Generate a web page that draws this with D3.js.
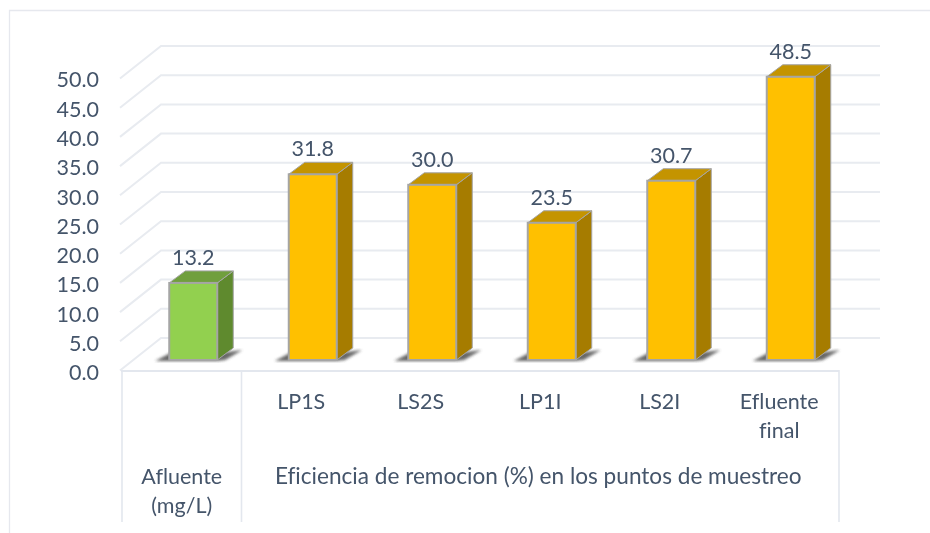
<!DOCTYPE html>
<html><head><meta charset="utf-8">
<script src="https://cdn.jsdelivr.net/npm/d3@7"></script>
<style>html,body{margin:0;padding:0;background:#fff}svg{display:block}text{font-family:Lato,"Open Sans",sans-serif;fill:#44546a;font-variant-ligatures:none}</style>
</head><body><svg id="c" width="930" height="533"></svg>
<script>
const categories=["Afluente (mg/L)","LP1S","LS2S","LP1I","LS2I","Efluente final"];
const categoryLines=[["Afluente","(mg/L)"],["LP1S"],["LS2S"],["LP1I"],["LS2I"],["Efluente","final"]];
const values=[13.2,31.8,30.0,23.5,30.7,48.5];
const frontColors=["#92d050","#ffc000","#ffc000","#ffc000","#ffc000","#ffc000"];
const sideColors=["#5e8a2f","#a67c00","#a67c00","#a67c00","#a67c00","#a67c00"];
const topColors=["#6f9f3c","#c49400","#c49400","#c49400","#c49400","#c49400"];
const groupLabel="Eficiencia de remocion (%) en los puntos de muestreo";
const tickValues=[0,5,10,15,20,25,30,35,40,45,50];

const svg=d3.select("#c");
const defs=svg.append("defs");
defs.append("filter").attr("id","soft").append("feGaussianBlur").attr("stdDeviation",0.5);
defs.append("filter").attr("id","sh").append("feGaussianBlur").attr("stdDeviation",1.8);

const x=d3.scaleBand().domain(categories).range([122,839]);
const y=d3.scaleLinear().domain([0,50]).range([370,78]);
const yLabel=y.copy().range([373,80]);
const backDx=39, backDy=-32;
const barDx=11.5, barDy=-10;
const barW=48, capDx=16, capDy=-12;
const line="#e3e7ee", grid="#e8ebf0";
const fs=21.5;

const root=svg.append("g").attr("filter","url(#soft)");
root.append("path").attr("d","M9.5,533V10.5H930").attr("fill","none").attr("stroke","#e6e8ee").attr("stroke-width",1.3);
root.append("g").selectAll("path").data(tickValues).join("path")
  .attr("d",d=>`M${x.range()[0]-2},${y(d)+0.5}L${x.range()[0]+backDx},${y(d)+backDy}H880`)
  .attr("fill","none").attr("stroke",grid).attr("stroke-width",2);
root.append("path").attr("d",`M${x.range()[0]-1},371H${x.range()[1]}`).attr("stroke",line).attr("stroke-width",2).attr("fill","none");
const seps=[x.range()[0],x("LP1S"),x.range()[1]];
root.append("g").selectAll("line").data(seps).join("line")
  .attr("x1",d=>d).attr("x2",d=>d).attr("y1",370).attr("y2",522)
  .attr("stroke",line).attr("stroke-width",1.6);
const ax=d3.axisLeft(yLabel).tickValues(tickValues).tickFormat(d3.format(".1f")).tickSize(0).tickPadding(23);
const ag=root.append("g").attr("transform",`translate(${x.range()[0]},0)`).call(ax);
ag.select(".domain").remove();
ag.selectAll("text").attr("font-size",fs).style("font-family","Lato,sans-serif").attr("fill","#44546a");
const b=root.append("g").selectAll("g").data(values).join("g")
  .attr("transform",(d,i)=>`translate(${x(categories[i])+(x.bandwidth()-barW)/2+barDx},${barDy})`);
b.append("path").attr("filter","url(#sh)").attr("fill","#4d4d4d").attr("opacity",.85)
  .attr("d",`M-14,${y(0)+1}L3,${y(0)-8}H${barW+10}L${barW+25},${y(0)-10}L${barW+8},${y(0)}L${barW},${y(0)+1}Z`);
b.append("path").attr("fill",(d,i)=>sideColors[i]).attr("stroke","#a5a5a5").attr("stroke-width",1)
  .attr("d",d=>`M${barW},${y(d)}l${capDx},${capDy}V${y(0)+capDy}L${barW},${y(0)}Z`);
b.append("path").attr("fill",(d,i)=>topColors[i]).attr("stroke","#a5a5a5").attr("stroke-width",1)
  .attr("d",d=>`M0,${y(d)}l${capDx},${capDy}H${barW+capDx}L${barW},${y(d)}Z`);
b.append("rect").attr("x",0).attr("width",barW).attr("y",d=>y(d)).attr("height",d=>y(0)-y(d))
  .attr("fill",(d,i)=>frontColors[i]).attr("stroke","#a5a5a5").attr("stroke-width",2);
b.append("text").attr("x",barW/2).attr("y",d=>y(d)-18).attr("text-anchor","middle")
  .attr("font-size",fs).text(d=>d3.format(".1f")(d));
const firstRow=409, rowH=29;
root.append("g").selectAll("text").data(categories.slice(1)).join("text")
  .attr("x",d=>x(d)+x.bandwidth()/2).attr("text-anchor","middle").attr("font-size",fs)
  .each(function(d){const t=d3.select(this);
    categoryLines[categories.indexOf(d)].forEach((l,i)=>t.append("tspan").attr("x",+t.attr("x")).attr("y",firstRow+i*rowH).text(l));});
const lab=root.append("text").attr("x",x(categories[0])+x.bandwidth()/2).attr("text-anchor","middle").attr("font-size",fs);
categoryLines[0].forEach((l,i)=>lab.append("tspan").attr("x",lab.attr("x")).attr("y",484+i*29).text(l));
root.append("text").attr("x",(x("LP1S")+x.range()[1])/2-2).attr("y",484).attr("text-anchor","middle").attr("font-size",22.6).text(groupLabel);
</script></body></html>
